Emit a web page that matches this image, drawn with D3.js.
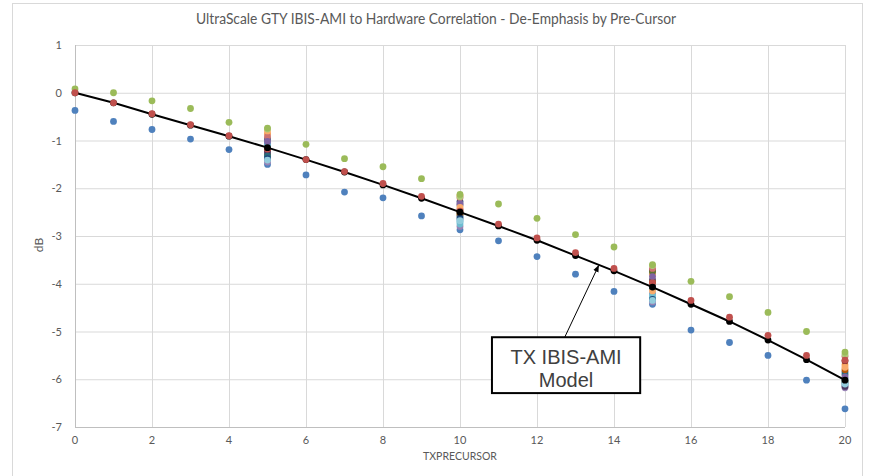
<!DOCTYPE html>
<html><head><meta charset="utf-8">
<script src="https://cdn.jsdelivr.net/npm/d3@7"></script>
<style>body{margin:0;background:#fff}svg{display:block}</style>
</head><body><svg id="c" width="870" height="476"></svg>
<script>
const title = "UltraScale GTY IBIS-AMI to Hardware Correlation - De-Emphasis by Pre-Cursor";
const xTicks = [0,2,4,6,8,10,12,14,16,18,20];
const yTicks = [1,0,-1,-2,-3,-4,-5,-6,-7];
const xAll = [0,1,2,3,4,5,6,7,8,9,10,11,12,13,14,15,16,17,18,19,20];
const model = [0,-0.21,-0.45,-0.68,-0.91,-1.15,-1.40,-1.66,-1.93,-2.21,-2.50,-2.79,-3.09,-3.41,-3.73,-4.07,-4.43,-4.79,-5.18,-5.59,-6.02];
const xMeas = [0,1,2,3,4,6,7,8,9,11,12,13,14,16,17,18,19];
const measBlue  = [-0.37,-0.60,-0.77,-0.97,-1.19,-1.72,-2.08,-2.20,-2.58,-3.10,-3.43,-3.80,-4.16,-4.97,-5.23,-5.50,-6.02];
const measRed   = [0.00,-0.21,-0.44,-0.67,-0.90,-1.40,-1.65,-1.90,-2.17,-2.75,-3.04,-3.35,-3.68,-4.35,-4.70,-5.08,-5.50];
const measGreen = [0.08,0.00,-0.17,-0.33,-0.62,-1.08,-1.38,-1.55,-1.80,-2.33,-2.63,-2.97,-3.23,-3.95,-4.27,-4.60,-5.00];
const xSweep = [5,10,15,20];
const sweepColors = ["#4F81BD","#9983B5","#F79646","#4BACC6","#2C4D75","#772C2A","#5F7530","#4D3B62","#276A7C","#B65708","#729ACA","#CD7371","#6FBDD1","#8064A2","#F9AB6B","#AFC97A","#C0504D","#9BBB59","#1F497D","#93CDDD"];
const sweepValues = [
  [-1.50,-2.87,-4.43,-6.62],
  [-1.45,-2.80,-4.38,-6.18],
  [-0.86,-2.15,-3.80,-5.70],
  [-1.05,-2.70,-4.30,-6.12],
  [-0.97,-2.28,-4.05,-5.85],
  [-1.20,-2.45,-3.72,-5.62],
  [-1.30,-2.52,-3.75,-6.05],
  [-1.25,-2.35,-3.92,-6.15],
  [-1.33,-2.58,-4.10,-5.90],
  [-1.17,-2.55,-3.97,-5.80],
  [-1.08,-2.65,-4.20,-5.98],
  [-0.92,-2.20,-3.68,-5.52],
  [-1.12,-2.75,-4.25,-6.02],
  [-1.02,-2.32,-3.85,-5.95],
  [-0.80,-2.40,-4.15,-5.75],
  [-0.76,-2.18,-3.62,-5.48],
  [-1.18,-2.48,-3.98,-5.60],
  [-0.74,-2.13,-3.60,-5.43],
  [-1.38,-2.62,-4.33,-6.08],
  [-1.41,-2.68,-4.35,-6.10]
];
const annotation = ["TX IBIS-AMI","Model"];

const svg = d3.select("#c");
svg.append("rect").attr("x",12.5).attr("y",3.5).attr("width",850).attr("height",480)
  .attr("fill","#fff").attr("stroke","#d9d9d9");
const x = d3.scaleLinear().domain([0,20]).range([75,845]);
const y = d3.scaleLinear().domain([-7,1]).range([427,45]);

// gridlines
svg.append("g").selectAll("line").data(yTicks).join("line")
  .attr("x1",x(0)).attr("x2",x(20)).attr("y1",d=>y(d)+0.5).attr("y2",d=>y(d)+0.5)
  .attr("stroke",d=>d===-7?"#bfbfbf":"#d9d9d9").attr("stroke-width",1);
svg.append("g").selectAll("line").data(xTicks).join("line")
  .attr("y1",y(1)).attr("y2",y(-7)).attr("x1",d=>x(d)+0.5).attr("x2",d=>x(d)+0.5)
  .attr("stroke",d=>d===0?"#bfbfbf":"#d9d9d9").attr("stroke-width",1);

const font = "Lato, 'Open Sans', sans-serif";
svg.append("g").selectAll("text").data(yTicks).join("text")
  .attr("x",62).attr("y",d=>y(d)+4).attr("text-anchor","end")
  .attr("font-family",font).attr("font-size",11).attr("fill","#595959").text(d=>d);
svg.append("g").selectAll("text").data(xTicks).join("text")
  .attr("x",d=>x(d)).attr("y",444).attr("text-anchor","middle")
  .attr("font-family",font).attr("font-size",11).attr("fill","#595959").text(d=>d);
svg.append("text").attr("x",460).attr("y",460).attr("text-anchor","middle")
  .attr("font-family",font).attr("font-size",10.5).attr("fill","#595959").text("TXPRECURSOR");
svg.append("text").attr("transform","translate(43,245) rotate(-90)").attr("text-anchor","middle")
  .attr("font-family",font).attr("font-size",12).attr("fill","#595959").text("dB");
svg.append("text").attr("x",436).attr("y",24).attr("text-anchor","middle")
  .attr("font-family",font).attr("font-size",15.5).attr("fill","#595959")
  .attr("textLength",480).attr("lengthAdjust","spacingAndGlyphs").text(title);

const R = 3.4;
// sweep clusters
sweepValues.forEach((vals,i)=>{
  svg.append("g").selectAll("circle").data(xSweep.map((xv,j)=>[xv,vals[j]])).join("circle")
    .attr("cx",d=>x(d[0])).attr("cy",d=>y(d[1])).attr("r",R).attr("fill",sweepColors[i]);
});
// model
const line = d3.line().x((d,i)=>x(xAll[i])).y(d=>y(d));
svg.append("path").attr("d",line(model)).attr("fill","none").attr("stroke","#000").attr("stroke-width",2);
svg.append("g").selectAll("circle").data(model).join("circle")
  .attr("cx",(d,i)=>x(xAll[i])).attr("cy",d=>y(d)).attr("r",R).attr("fill","#000");
// measured series
[[measBlue,"#4F81BD"],[measGreen,"#9BBB59"],[measRed,"#C0504D"]].forEach(([vals,c])=>{
  svg.append("g").selectAll("circle").data(vals).join("circle")
    .attr("cx",(d,i)=>x(xMeas[i])).attr("cy",d=>y(d)).attr("r",R).attr("fill",c);
});

// annotation
const defs = svg.append("defs");
defs.append("marker").attr("id","ah").attr("viewBox","0 0 10 10").attr("refX",9).attr("refY",5)
  .attr("markerWidth",7).attr("markerHeight",7).attr("orient","auto")
  .append("path").attr("d","M0,1 L10,5 L0,9 Z").attr("fill","#000");
svg.append("line").attr("x1",x(12.72)).attr("y1",y(-5.12)).attr("x2",x(13.6)).attr("y2",y(-3.62))
  .attr("stroke","#000").attr("stroke-width",1).attr("marker-end","url(#ah)");
svg.append("rect").attr("x",x(10.83)).attr("y",y(-5.12)).attr("width",x(14.68)-x(10.83)).attr("height",y(-6.29)-y(-5.12))
  .attr("fill","#fff").attr("stroke","#000").attr("stroke-width",2);
svg.append("g").selectAll("text").data(annotation).join("text")
  .attr("x",(x(10.83)+x(14.68))/2).attr("y",(d,i)=>y(-5.12)+27+i*23).attr("text-anchor","middle")
  .attr("font-family","'Liberation Sans', Arial, sans-serif").attr("font-size",20).attr("fill","#404040").text(d=>d);
</script></body></html>
